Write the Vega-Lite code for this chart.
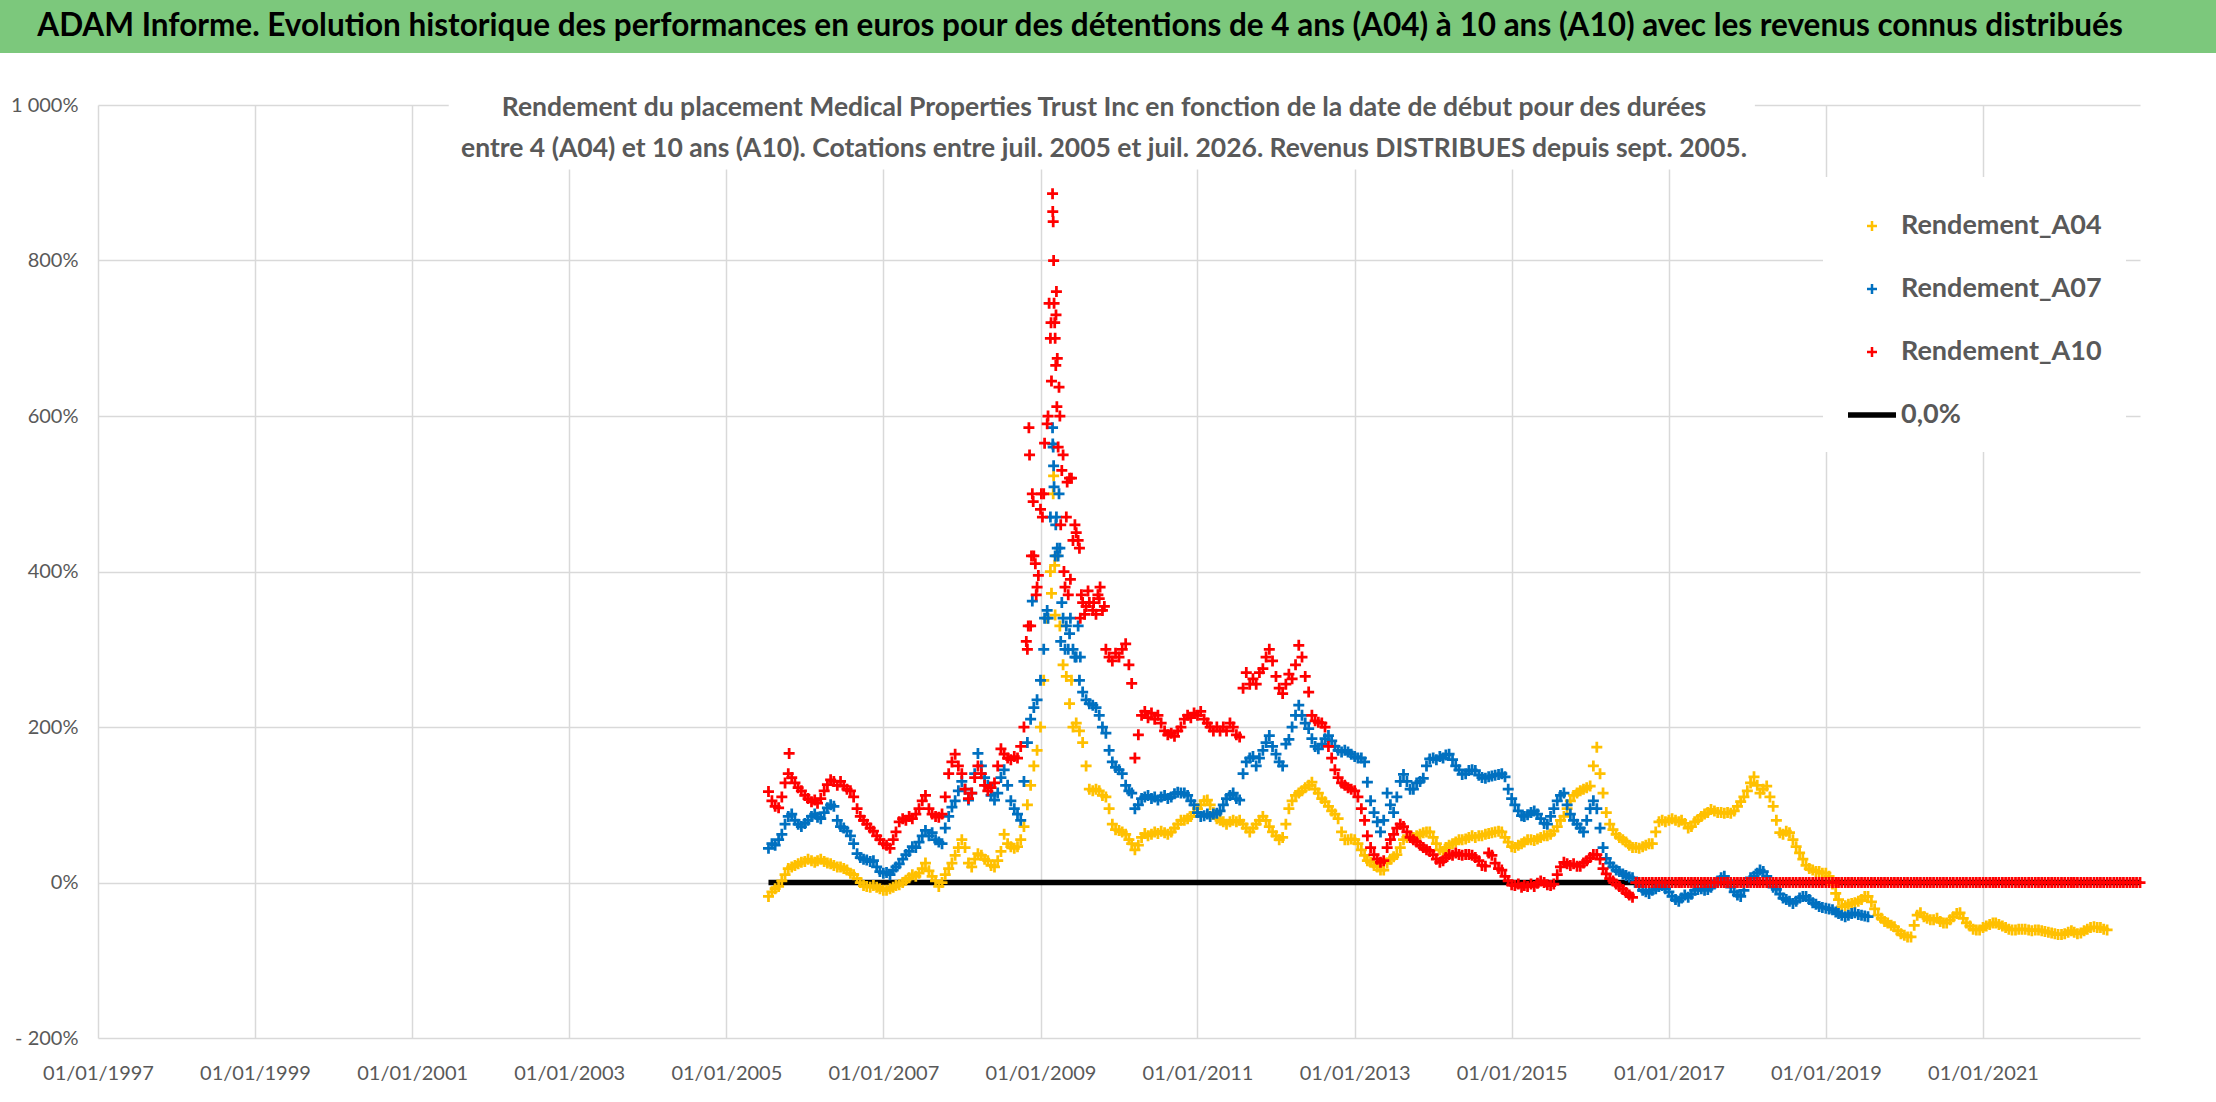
{
  "$schema": "https://vega.github.io/schema/vega-lite/v6.json",
  "padding": 0,
  "background": "white",
  "columns": 1,
  "bounds": "full",
  "spacing": 41,
  "config": {
    "view": {"stroke": null},
    "font": "Lato",
    "axis": {
      "domain": false,
      "ticks": false,
      "title": null,
      "gridColor": "#D9D9D9",
      "gridWidth": 1.5,
      "labelColor": "#595959",
      "labelFont": "Lato"
    }
  },
  "datasets": {
    "banner": [{"t": "ADAM Informe. Evolution historique des performances en euros pour des détentions de 4 ans (A04) à 10 ans (A10) avec les revenus connus distribués"}],
    "zero": [{"d": "2005-07-16"}, {"d": "2023-01-01"}],
    "perf": [
      {"d":"2005-07-16","a":-18,"b":44,"c":117},
      {"d":"2005-08-01","a":-12,"b":50,"c":105},
      {"d":"2005-08-16","a":-8,"b":48,"c":98},
      {"d":"2005-09-01","a":-5,"b":55,"c":96},
      {"d":"2005-09-16","a":2,"b":62,"c":110},
      {"d":"2005-10-01","a":10,"b":75,"c":128},
      {"d":"2005-10-16","a":18,"b":85,"c":140},
      {"d":"2005-10-20","c":166},
      {"d":"2005-11-01","a":20,"b":88,"c":135},
      {"d":"2005-11-16","a":22,"b":80,"c":128},
      {"d":"2005-12-01","a":24,"b":75,"c":122},
      {"d":"2005-12-16","a":26,"b":72,"c":118},
      {"d":"2006-01-01","a":27,"b":76,"c":112},
      {"d":"2006-01-16","a":30,"b":80,"c":108},
      {"d":"2006-02-01","a":28,"b":85,"c":104},
      {"d":"2006-02-16","a":26,"b":88,"c":106},
      {"d":"2006-03-01","a":28,"b":84,"c":102},
      {"d":"2006-03-16","a":30,"b":82,"c":108},
      {"d":"2006-04-01","a":27,"b":90,"c":118},
      {"d":"2006-04-16","a":25,"b":96,"c":126},
      {"d":"2006-05-01","a":24,"b":100,"c":132},
      {"d":"2006-05-16","a":22,"b":98,"c":130},
      {"d":"2006-06-01","a":20,"b":80,"c":125},
      {"d":"2006-06-16","a":20,"b":72,"c":130},
      {"d":"2006-07-01","a":18,"b":70,"c":124},
      {"d":"2006-07-16","a":16,"b":66,"c":120},
      {"d":"2006-08-01","a":12,"b":60,"c":118},
      {"d":"2006-08-16","a":10,"b":50,"c":110},
      {"d":"2006-09-01","a":5,"b":37,"c":95},
      {"d":"2006-09-16","a":0,"b":32,"c":85},
      {"d":"2006-10-01","a":-4,"b":30,"c":80},
      {"d":"2006-10-16","a":-5,"b":29,"c":75},
      {"d":"2006-11-01","a":-6,"b":27,"c":70},
      {"d":"2006-11-16","a":-4,"b":28,"c":66},
      {"d":"2006-12-01","a":-6,"b":20,"c":60},
      {"d":"2006-12-16","a":-8,"b":14,"c":55},
      {"d":"2007-01-01","a":-10,"b":12,"c":50},
      {"d":"2007-01-16","a":-10,"b":13,"c":48},
      {"d":"2007-02-01","a":-8,"b":10,"c":44},
      {"d":"2007-02-16","a":-6,"b":16,"c":55},
      {"d":"2007-03-01","a":-4,"b":20,"c":65},
      {"d":"2007-03-16","a":-3,"b":24,"c":78},
      {"d":"2007-04-01","a":0,"b":30,"c":82},
      {"d":"2007-04-16","a":3,"b":36,"c":80},
      {"d":"2007-05-01","a":6,"b":40,"c":85},
      {"d":"2007-05-16","a":10,"b":46,"c":82},
      {"d":"2007-06-01","a":8,"b":45,"c":88},
      {"d":"2007-06-16","a":12,"b":52,"c":95},
      {"d":"2007-07-01","a":18,"b":60,"c":105},
      {"d":"2007-07-16","a":25,"b":67,"c":112},
      {"d":"2007-08-01","a":15,"b":60,"c":95},
      {"d":"2007-08-16","a":8,"b":64,"c":88},
      {"d":"2007-09-01","a":2,"b":55,"c":85},
      {"d":"2007-09-16","a":-5,"b":52,"c":84},
      {"d":"2007-10-01","a":0,"b":50,"c":88},
      {"d":"2007-10-16","a":10,"b":70,"c":110},
      {"d":"2007-11-01","a":18,"b":85,"c":140},
      {"d":"2007-11-16","a":25,"b":97,"c":155},
      {"d":"2007-12-01","a":35,"b":105,"c":165},
      {"d":"2007-12-16","a":45,"b":118,"c":150},
      {"d":"2008-01-01","a":55,"b":130,"c":140},
      {"d":"2008-01-16","a":45,"b":120,"c":120},
      {"d":"2008-02-01","a":25,"b":106,"c":108},
      {"d":"2008-02-16","a":20,"b":115,"c":115},
      {"d":"2008-03-01","a":30,"b":140,"c":135},
      {"d":"2008-03-16","a":37,"b":166,"c":150},
      {"d":"2008-04-01","a":35,"b":150,"c":140},
      {"d":"2008-04-16","a":30,"b":135,"c":125},
      {"d":"2008-05-01","a":28,"b":125,"c":118},
      {"d":"2008-05-16","a":22,"b":112,"c":122},
      {"d":"2008-06-01","a":20,"b":106,"c":128},
      {"d":"2008-06-16","a":28,"b":115,"c":150},
      {"d":"2008-07-01","a":40,"b":135,"c":172},
      {"d":"2008-07-16","a":62,"b":145,"c":165},
      {"d":"2008-08-01","a":50,"b":125,"c":160},
      {"d":"2008-08-16","a":46,"b":105,"c":158},
      {"d":"2008-09-01","a":44,"b":95,"c":162},
      {"d":"2008-09-16","a":46,"b":88,"c":160},
      {"d":"2008-10-01","a":55,"b":80,"c":175},
      {"d":"2008-10-16","a":72,"b":130,"c":200},
      {"d":"2008-10-27","c":310},
      {"d":"2008-11-01","a":100,"b":180,"c":300},
      {"d":"2008-11-05","c":330},
      {"d":"2008-11-08","c":585},
      {"d":"2008-11-11","c":550},
      {"d":"2008-11-16","a":125,"b":210,"c":330},
      {"d":"2008-11-20","c":420},
      {"d":"2008-11-24","b":362,"c":500},
      {"d":"2008-11-28","c":490},
      {"d":"2008-12-01","a":150,"b":225,"c":420},
      {"d":"2008-12-08","c":410},
      {"d":"2008-12-12","c":370},
      {"d":"2008-12-16","a":170,"b":235,"c":380},
      {"d":"2008-12-22","c":395},
      {"d":"2009-01-01","a":200,"b":260,"c":480},
      {"d":"2009-01-05","c":500},
      {"d":"2009-01-10","c":470},
      {"d":"2009-01-16","a":260,"b":300,"c":500},
      {"d":"2009-01-20","b":340,"c":565},
      {"d":"2009-02-01","a":340,"b":350,"c":590},
      {"d":"2009-02-05","b":340,"c":600},
      {"d":"2009-02-10","c":745},
      {"d":"2009-02-16","a":400,"b":470,"c":700},
      {"d":"2009-02-19","c":720},
      {"d":"2009-02-21","a":372,"c":645},
      {"d":"2009-02-26","b":585,"c":886},
      {"d":"2009-02-27","b":564,"c":863},
      {"d":"2009-03-01","a":500,"b":560,"c":850},
      {"d":"2009-03-03","a":523,"b":536,"c":800},
      {"d":"2009-03-05","b":509,"c":745},
      {"d":"2009-03-08","a":408,"c":720},
      {"d":"2009-03-10","a":344,"b":420,"c":700},
      {"d":"2009-03-13","b":460,"c":665},
      {"d":"2009-03-14","c":730},
      {"d":"2009-03-16","a":420,"b":470,"c":760},
      {"d":"2009-03-18","c":612},
      {"d":"2009-03-20","b":430,"c":674},
      {"d":"2009-03-24","b":420,"c":560},
      {"d":"2009-03-28","b":500,"c":637},
      {"d":"2009-04-01","a":330,"b":430,"c":600},
      {"d":"2009-04-05","b":310,"c":460},
      {"d":"2009-04-10","b":360,"c":530},
      {"d":"2009-04-16","a":280,"b":340,"c":550},
      {"d":"2009-04-20","c":400},
      {"d":"2009-04-25","b":300,"c":380},
      {"d":"2009-05-01","a":265,"b":330,"c":470},
      {"d":"2009-05-05","c":515},
      {"d":"2009-05-10","b":300,"c":370},
      {"d":"2009-05-16","a":230,"b":320,"c":520},
      {"d":"2009-05-20","b":340,"c":390},
      {"d":"2009-05-25","a":260,"c":520},
      {"d":"2009-06-01","a":200,"b":300,"c":440},
      {"d":"2009-06-10","b":290,"c":460},
      {"d":"2009-06-16","a":205,"b":290,"c":450},
      {"d":"2009-06-25","b":330,"c":440},
      {"d":"2009-07-01","a":195,"b":260,"c":430},
      {"d":"2009-07-05","b":290,"c":340},
      {"d":"2009-07-10","c":370},
      {"d":"2009-07-16","a":180,"b":245,"c":360},
      {"d":"2009-07-25","c":345},
      {"d":"2009-08-01","a":150,"b":235,"c":355},
      {"d":"2009-08-10","c":375},
      {"d":"2009-08-16","a":120,"b":230,"c":360},
      {"d":"2009-09-01","a":118,"b":228,"c":350},
      {"d":"2009-09-05","c":360},
      {"d":"2009-09-16","a":120,"b":225,"c":345},
      {"d":"2009-09-25","c":370},
      {"d":"2009-10-01","a":118,"b":215,"c":365},
      {"d":"2009-10-05","c":380},
      {"d":"2009-10-16","a":112,"b":200,"c":350},
      {"d":"2009-10-25","c":355},
      {"d":"2009-11-01","a":110,"b":192,"c":300},
      {"d":"2009-11-16","a":95,"b":170,"c":290},
      {"d":"2009-12-01","a":75,"b":155,"c":285},
      {"d":"2009-12-16","a":68,"b":148,"c":295},
      {"d":"2010-01-01","a":67,"b":145,"c":290},
      {"d":"2010-01-16","a":65,"b":140,"c":300},
      {"d":"2010-02-01","a":62,"b":125,"c":307},
      {"d":"2010-02-16","a":55,"b":118,"c":280},
      {"d":"2010-03-01","a":50,"b":115,"c":256},
      {"d":"2010-03-16","a":42,"b":95,"c":160},
      {"d":"2010-04-01","a":48,"b":100,"c":190},
      {"d":"2010-04-16","a":58,"b":108,"c":215},
      {"d":"2010-05-01","a":63,"b":110,"c":220},
      {"d":"2010-05-16","a":60,"b":112,"c":212},
      {"d":"2010-06-01","a":62,"b":108,"c":218},
      {"d":"2010-06-16","a":65,"b":110,"c":210},
      {"d":"2010-07-01","a":63,"b":106,"c":215},
      {"d":"2010-07-16","a":66,"b":110,"c":205},
      {"d":"2010-08-01","a":64,"b":112,"c":195},
      {"d":"2010-08-16","a":62,"b":108,"c":190},
      {"d":"2010-09-01","a":65,"b":110,"c":192},
      {"d":"2010-09-16","a":70,"b":114,"c":188},
      {"d":"2010-10-01","a":75,"b":116,"c":195},
      {"d":"2010-10-16","a":80,"b":115,"c":200},
      {"d":"2010-11-01","a":80,"b":115,"c":210},
      {"d":"2010-11-16","a":82,"b":112,"c":215},
      {"d":"2010-12-01","a":85,"b":105,"c":212},
      {"d":"2010-12-16","a":90,"b":100,"c":218},
      {"d":"2011-01-01","a":95,"b":90,"c":215},
      {"d":"2011-01-16","a":100,"b":85,"c":220},
      {"d":"2011-02-01","a":105,"b":86,"c":210},
      {"d":"2011-02-16","a":106,"b":88,"c":205},
      {"d":"2011-03-01","a":100,"b":85,"c":200},
      {"d":"2011-03-16","a":90,"b":88,"c":195},
      {"d":"2011-04-01","a":82,"b":89,"c":200},
      {"d":"2011-04-16","a":80,"b":92,"c":195},
      {"d":"2011-05-01","a":78,"b":100,"c":200},
      {"d":"2011-05-16","a":75,"b":108,"c":195},
      {"d":"2011-06-01","a":78,"b":112,"c":205},
      {"d":"2011-06-16","a":80,"b":115,"c":200},
      {"d":"2011-07-01","a":78,"b":108,"c":190},
      {"d":"2011-07-16","a":80,"b":106,"c":187},
      {"d":"2011-08-01","a":75,"b":140,"c":250},
      {"d":"2011-08-16","a":70,"b":155,"c":270},
      {"d":"2011-09-01","a":65,"b":160,"c":255},
      {"d":"2011-09-16","a":70,"b":162,"c":262},
      {"d":"2011-10-01","a":75,"b":150,"c":255},
      {"d":"2011-10-16","a":80,"b":160,"c":270},
      {"d":"2011-11-01","a":85,"b":170,"c":275},
      {"d":"2011-11-16","a":80,"b":180,"c":290},
      {"d":"2011-12-01","a":72,"b":189,"c":300},
      {"d":"2011-12-16","a":65,"b":175,"c":285},
      {"d":"2012-01-01","a":60,"b":165,"c":265},
      {"d":"2012-01-16","a":55,"b":155,"c":250},
      {"d":"2012-02-01","a":58,"b":150,"c":243},
      {"d":"2012-02-16","a":75,"b":178,"c":255},
      {"d":"2012-03-01","a":95,"b":184,"c":268},
      {"d":"2012-03-16","a":105,"b":200,"c":262},
      {"d":"2012-04-01","a":112,"b":215,"c":280},
      {"d":"2012-04-16","a":115,"b":228,"c":305},
      {"d":"2012-05-01","a":118,"b":215,"c":290},
      {"d":"2012-05-16","a":122,"b":205,"c":265},
      {"d":"2012-06-01","a":125,"b":198,"c":245},
      {"d":"2012-06-16","a":129,"b":185,"c":215},
      {"d":"2012-07-01","a":120,"b":175,"c":208},
      {"d":"2012-07-16","a":115,"b":172,"c":206},
      {"d":"2012-08-01","a":108,"b":178,"c":205},
      {"d":"2012-08-16","a":104,"b":185,"c":200},
      {"d":"2012-09-01","a":98,"b":189,"c":175},
      {"d":"2012-09-16","a":92,"b":182,"c":160},
      {"d":"2012-10-01","a":88,"b":175,"c":145},
      {"d":"2012-10-16","a":82,"b":170,"c":135},
      {"d":"2012-11-01","a":65,"b":168,"c":128},
      {"d":"2012-11-16","a":55,"b":170,"c":125},
      {"d":"2012-12-01","a":55,"b":168,"c":122},
      {"d":"2012-12-16","a":56,"b":165,"c":120},
      {"d":"2013-01-01","a":55,"b":162,"c":118},
      {"d":"2013-01-16","a":50,"b":160,"c":110},
      {"d":"2013-02-01","a":42,"b":160,"c":95},
      {"d":"2013-02-16","a":35,"b":155,"c":80},
      {"d":"2013-03-01","a":28,"b":129,"c":60},
      {"d":"2013-03-16","a":26,"b":105,"c":45},
      {"d":"2013-04-01","a":22,"b":90,"c":36},
      {"d":"2013-04-16","a":20,"b":78,"c":30},
      {"d":"2013-05-01","a":16,"b":65,"c":26},
      {"d":"2013-05-16","a":16,"b":80,"c":28},
      {"d":"2013-06-01","a":25,"b":115,"c":45},
      {"d":"2013-06-16","a":30,"b":100,"c":55},
      {"d":"2013-07-01","a":33,"b":90,"c":62},
      {"d":"2013-07-16","a":36,"b":110,"c":70},
      {"d":"2013-08-01","a":45,"b":130,"c":75},
      {"d":"2013-08-16","a":55,"b":139,"c":72},
      {"d":"2013-09-01","a":58,"b":130,"c":65},
      {"d":"2013-09-16","a":60,"b":120,"c":58},
      {"d":"2013-10-01","a":58,"b":120,"c":55},
      {"d":"2013-10-16","a":60,"b":128,"c":52},
      {"d":"2013-11-01","a":62,"b":130,"c":48},
      {"d":"2013-11-16","a":64,"b":134,"c":45},
      {"d":"2013-12-01","a":65,"b":150,"c":42},
      {"d":"2013-12-16","a":65,"b":159,"c":40},
      {"d":"2014-01-01","a":58,"b":160,"c":36},
      {"d":"2014-01-16","a":50,"b":158,"c":30},
      {"d":"2014-02-01","a":42,"b":162,"c":26},
      {"d":"2014-02-16","a":40,"b":160,"c":28},
      {"d":"2014-03-01","a":45,"b":164,"c":32},
      {"d":"2014-03-16","a":48,"b":165,"c":36},
      {"d":"2014-04-01","a":50,"b":158,"c":35},
      {"d":"2014-04-16","a":52,"b":150,"c":38},
      {"d":"2014-05-01","a":55,"b":145,"c":36},
      {"d":"2014-05-16","a":55,"b":139,"c":35},
      {"d":"2014-06-01","a":56,"b":140,"c":36},
      {"d":"2014-06-16","a":58,"b":144,"c":36},
      {"d":"2014-07-01","a":60,"b":145,"c":35},
      {"d":"2014-07-16","a":58,"b":144,"c":32},
      {"d":"2014-08-01","a":60,"b":138,"c":28},
      {"d":"2014-08-16","a":60,"b":135,"c":22},
      {"d":"2014-09-01","a":62,"b":134,"c":21},
      {"d":"2014-09-16","a":63,"b":136,"c":38},
      {"d":"2014-10-01","a":64,"b":137,"c":35},
      {"d":"2014-10-16","a":65,"b":138,"c":25},
      {"d":"2014-11-01","a":66,"b":139,"c":18},
      {"d":"2014-11-16","a":65,"b":140,"c":16},
      {"d":"2014-12-01","a":58,"b":136,"c":8},
      {"d":"2014-12-16","a":52,"b":120,"c":2},
      {"d":"2015-01-01","a":46,"b":108,"c":-3},
      {"d":"2015-01-16","a":45,"b":100,"c":-4},
      {"d":"2015-02-01","a":48,"b":92,"c":-2},
      {"d":"2015-02-16","a":50,"b":86,"c":-6},
      {"d":"2015-03-01","a":52,"b":85,"c":-4},
      {"d":"2015-03-16","a":55,"b":87,"c":-5},
      {"d":"2015-04-01","a":55,"b":90,"c":-2},
      {"d":"2015-04-16","a":54,"b":92,"c":-5},
      {"d":"2015-05-01","a":56,"b":88,"c":-1},
      {"d":"2015-05-16","a":58,"b":82,"c":2},
      {"d":"2015-06-01","a":60,"b":76,"c":0},
      {"d":"2015-06-16","a":60,"b":75,"c":-3},
      {"d":"2015-07-01","a":62,"b":85,"c":-4},
      {"d":"2015-07-16","a":66,"b":95,"c":-2},
      {"d":"2015-08-01","a":72,"b":105,"c":10},
      {"d":"2015-08-16","a":80,"b":112,"c":20},
      {"d":"2015-09-01","a":85,"b":115,"c":26},
      {"d":"2015-09-16","a":95,"b":100,"c":24},
      {"d":"2015-10-01","a":105,"b":88,"c":22},
      {"d":"2015-10-16","a":112,"b":80,"c":24},
      {"d":"2015-11-01","a":115,"b":75,"c":21},
      {"d":"2015-11-16","a":118,"b":70,"c":21},
      {"d":"2015-12-01","a":120,"b":65,"c":25},
      {"d":"2015-12-16","a":122,"b":80,"c":28},
      {"d":"2016-01-01","a":124,"b":95,"c":32},
      {"d":"2016-01-16","a":150,"b":105,"c":36},
      {"d":"2016-02-01","a":174,"b":95,"c":36},
      {"d":"2016-02-16","a":140,"b":70,"c":30},
      {"d":"2016-03-01","a":115,"b":45,"c":18},
      {"d":"2016-03-16","a":90,"b":31,"c":11},
      {"d":"2016-04-01","a":75,"b":25,"c":5},
      {"d":"2016-04-16","a":68,"b":20,"c":2},
      {"d":"2016-05-01","a":62,"b":16,"c":-2},
      {"d":"2016-05-16","a":58,"b":14,"c":-5},
      {"d":"2016-06-01","a":55,"b":11,"c":-9},
      {"d":"2016-06-16","a":52,"b":9,"c":-13},
      {"d":"2016-07-01","a":48,"b":7,"c":-16},
      {"d":"2016-07-16","a":45,"b":6,"c":-19},
      {"d":"2016-08-01","a":45,"b":0,"c":0},
      {"d":"2016-08-16","a":44,"b":-5,"c":0},
      {"d":"2016-09-01","a":46,"b":-10,"c":0},
      {"d":"2016-09-16","a":48,"b":-12,"c":0},
      {"d":"2016-10-01","a":50,"b":-14,"c":0},
      {"d":"2016-10-16","a":50,"b":-10,"c":0},
      {"d":"2016-11-01","a":65,"b":-8,"c":0},
      {"d":"2016-11-16","a":78,"b":-5,"c":0},
      {"d":"2016-12-01","a":80,"b":-4,"c":0},
      {"d":"2016-12-16","a":78,"b":-8,"c":0},
      {"d":"2017-01-01","a":80,"b":-12,"c":0},
      {"d":"2017-01-16","a":82,"b":-18,"c":0},
      {"d":"2017-02-01","a":80,"b":-22,"c":0},
      {"d":"2017-02-16","a":78,"b":-24,"c":0},
      {"d":"2017-03-01","a":80,"b":-20,"c":0},
      {"d":"2017-03-16","a":76,"b":-16,"c":0},
      {"d":"2017-04-01","a":70,"b":-19,"c":0},
      {"d":"2017-04-16","a":72,"b":-15,"c":0},
      {"d":"2017-05-01","a":78,"b":-10,"c":0},
      {"d":"2017-05-16","a":81,"b":-9,"c":0},
      {"d":"2017-06-01","a":85,"b":-8,"c":0},
      {"d":"2017-06-16","a":88,"b":-10,"c":0},
      {"d":"2017-07-01","a":90,"b":-9,"c":0},
      {"d":"2017-07-16","a":94,"b":-6,"c":0},
      {"d":"2017-08-01","a":92,"b":-2,"c":0},
      {"d":"2017-08-16","a":90,"b":2,"c":0},
      {"d":"2017-09-01","a":90,"b":6,"c":0},
      {"d":"2017-09-16","a":89,"b":8,"c":0},
      {"d":"2017-10-01","a":90,"b":2,"c":0},
      {"d":"2017-10-16","a":89,"b":-6,"c":0},
      {"d":"2017-11-01","a":92,"b":-12,"c":0},
      {"d":"2017-11-16","a":98,"b":-16,"c":0},
      {"d":"2017-12-01","a":104,"b":-18,"c":0},
      {"d":"2017-12-16","a":110,"b":-10,"c":0},
      {"d":"2018-01-01","a":118,"b":0,"c":0},
      {"d":"2018-01-16","a":128,"b":6,"c":0},
      {"d":"2018-02-01","a":136,"b":8,"c":0},
      {"d":"2018-02-16","a":125,"b":12,"c":0},
      {"d":"2018-03-01","a":115,"b":16,"c":0},
      {"d":"2018-03-16","a":120,"b":14,"c":0},
      {"d":"2018-04-01","a":124,"b":8,"c":0},
      {"d":"2018-04-16","a":110,"b":0,"c":0},
      {"d":"2018-05-01","a":98,"b":-6,"c":0},
      {"d":"2018-05-16","a":80,"b":-9,"c":0},
      {"d":"2018-06-01","a":64,"b":-15,"c":0},
      {"d":"2018-06-16","a":62,"b":-20,"c":0},
      {"d":"2018-07-01","a":66,"b":-22,"c":0},
      {"d":"2018-07-16","a":64,"b":-24,"c":0},
      {"d":"2018-08-01","a":55,"b":-27,"c":0},
      {"d":"2018-08-16","a":46,"b":-24,"c":0},
      {"d":"2018-09-01","a":38,"b":-20,"c":0},
      {"d":"2018-09-16","a":30,"b":-18,"c":0},
      {"d":"2018-10-01","a":22,"b":-18,"c":0},
      {"d":"2018-10-16","a":18,"b":-22,"c":0},
      {"d":"2018-11-01","a":16,"b":-26,"c":0},
      {"d":"2018-11-16","a":14,"b":-28,"c":0},
      {"d":"2018-12-01","a":14,"b":-31,"c":0},
      {"d":"2018-12-16","a":12,"b":-32,"c":0},
      {"d":"2019-01-01","a":12,"b":-33,"c":0},
      {"d":"2019-01-16","a":8,"b":-34,"c":0},
      {"d":"2019-02-01","a":-2,"b":-35,"c":0},
      {"d":"2019-02-16","a":-14,"b":-38,"c":0},
      {"d":"2019-03-01","a":-22,"b":-40,"c":0},
      {"d":"2019-03-16","a":-31,"b":-42,"c":0},
      {"d":"2019-04-01","a":-30,"b":-44,"c":0},
      {"d":"2019-04-16","a":-28,"b":-42,"c":0},
      {"d":"2019-05-01","a":-27,"b":-40,"c":0},
      {"d":"2019-05-16","a":-26,"b":-39,"c":0},
      {"d":"2019-06-01","a":-24,"b":-41,"c":0},
      {"d":"2019-06-16","a":-22,"b":-42,"c":0},
      {"d":"2019-07-01","a":-18,"b":-43,"c":0},
      {"d":"2019-07-16","a":-18,"b":-44,"c":0},
      {"d":"2019-08-01","a":-25,"c":0},
      {"d":"2019-08-16","a":-34,"c":0},
      {"d":"2019-09-01","a":-42,"c":0},
      {"d":"2019-09-16","a":-46,"c":0},
      {"d":"2019-10-01","a":-50,"c":0},
      {"d":"2019-10-16","a":-52,"c":0},
      {"d":"2019-11-01","a":-55,"c":0},
      {"d":"2019-11-16","a":-57,"c":0},
      {"d":"2019-12-01","a":-62,"c":0},
      {"d":"2019-12-16","a":-66,"c":0},
      {"d":"2020-01-01","a":-68,"c":0},
      {"d":"2020-01-16","a":-70,"c":0},
      {"d":"2020-02-01","a":-70,"c":0},
      {"d":"2020-02-16","a":-55,"c":0},
      {"d":"2020-03-01","a":-42,"c":0},
      {"d":"2020-03-16","a":-39,"c":0},
      {"d":"2020-04-01","a":-44,"c":0},
      {"d":"2020-04-16","a":-46,"c":0},
      {"d":"2020-05-01","a":-48,"c":0},
      {"d":"2020-05-16","a":-48,"c":0},
      {"d":"2020-06-01","a":-46,"c":0},
      {"d":"2020-06-16","a":-50,"c":0},
      {"d":"2020-07-01","a":-52,"c":0},
      {"d":"2020-07-16","a":-52,"c":0},
      {"d":"2020-08-01","a":-48,"c":0},
      {"d":"2020-08-16","a":-44,"c":0},
      {"d":"2020-09-01","a":-40,"c":0},
      {"d":"2020-09-16","a":-39,"c":0},
      {"d":"2020-10-01","a":-46,"c":0},
      {"d":"2020-10-16","a":-52,"c":0},
      {"d":"2020-11-01","a":-56,"c":0},
      {"d":"2020-11-16","a":-60,"c":0},
      {"d":"2020-12-01","a":-61,"c":0},
      {"d":"2020-12-16","a":-61,"c":0},
      {"d":"2021-01-01","a":-58,"c":0},
      {"d":"2021-01-16","a":-56,"c":0},
      {"d":"2021-02-01","a":-54,"c":0},
      {"d":"2021-02-16","a":-52,"c":0},
      {"d":"2021-03-01","a":-52,"c":0},
      {"d":"2021-03-16","a":-54,"c":0},
      {"d":"2021-04-01","a":-56,"c":0},
      {"d":"2021-04-16","a":-58,"c":0},
      {"d":"2021-05-01","a":-60,"c":0},
      {"d":"2021-05-16","a":-61,"c":0},
      {"d":"2021-06-01","a":-61,"c":0},
      {"d":"2021-06-16","a":-60,"c":0},
      {"d":"2021-07-01","a":-60,"c":0},
      {"d":"2021-07-16","a":-60,"c":0},
      {"d":"2021-08-01","a":-61,"c":0},
      {"d":"2021-08-16","a":-62,"c":0},
      {"d":"2021-09-01","a":-61,"c":0},
      {"d":"2021-09-16","a":-61,"c":0},
      {"d":"2021-10-01","a":-62,"c":0},
      {"d":"2021-10-16","a":-63,"c":0},
      {"d":"2021-11-01","a":-64,"c":0},
      {"d":"2021-11-16","a":-65,"c":0},
      {"d":"2021-12-01","a":-66,"c":0},
      {"d":"2021-12-16","a":-67,"c":0},
      {"d":"2022-01-01","a":-67,"c":0},
      {"d":"2022-01-16","a":-66,"c":0},
      {"d":"2022-02-01","a":-64,"c":0},
      {"d":"2022-02-16","a":-62,"c":0},
      {"d":"2022-03-01","a":-64,"c":0},
      {"d":"2022-03-16","a":-66,"c":0},
      {"d":"2022-04-01","a":-65,"c":0},
      {"d":"2022-04-16","a":-62,"c":0},
      {"d":"2022-05-01","a":-60,"c":0},
      {"d":"2022-05-16","a":-58,"c":0},
      {"d":"2022-06-01","a":-57,"c":0},
      {"d":"2022-06-16","a":-58,"c":0},
      {"d":"2022-07-01","a":-58,"c":0},
      {"d":"2022-07-16","a":-60,"c":0},
      {"d":"2022-08-01","a":-61,"c":0},
      {"d":"2022-08-16","c":0},
      {"d":"2022-09-01","c":0},
      {"d":"2022-09-16","c":0},
      {"d":"2022-10-01","c":0},
      {"d":"2022-10-16","c":0},
      {"d":"2022-11-01","c":0},
      {"d":"2022-11-16","c":0},
      {"d":"2022-12-01","c":0},
      {"d":"2022-12-16","c":0},
      {"d":"2023-01-01","c":0}
    ]
  },
  "concat": [
    {
      "width": 2216,
      "height": 53,
      "view": {"fill": "#7CC87C", "stroke": null},
      "data": {"name": "banner"},
      "mark": {
        "type": "text",
        "font": "Lato",
        "fontWeight": "bold",
        "fontSize": 31.5,
        "color": "black",
        "dx": -28
      },
      "encoding": {"text": {"field": "t"}}
    },
    {
      "width": 2140,
      "height": 933,
      "title": {
        "text": [
          "Rendement du placement Medical Properties Trust Inc en fonction de la date de début pour des durées",
          "entre 4 (A04) et 10 ans (A10). Cotations entre juil. 2005 et juil. 2026. Revenus DISTRIBUES depuis sept. 2005."
        ],
        "font": "Lato",
        "fontSize": 26.5,
        "fontWeight": "bold",
        "color": "#595959",
        "lineHeight": 41,
        "anchor": "middle",
        "frame": "group",
        "baseline": "top",
        "offset": -67,
        "dx": 34
      },
      "layer": [
        {
          "data": {"values": [{}]},
          "mark": {"type": "rect", "color": "white"},
          "encoding": {
            "x": {"datum": {"year": 2001, "month": 6, "date": 20, "utc": true}, "type": "temporal"},
            "x2": {"datum": {"year": 2018, "month": 2, "date": 5, "utc": true}},
            "y": {"datum": 917, "type": "quantitative"},
            "y2": {"datum": 1005}
          }
        },
        {
          "data": {"name": "zero"},
          "mark": {"type": "line", "color": "black", "strokeWidth": 5.5},
          "encoding": {
            "x": {"field": "d", "type": "temporal", "title": null},
            "y": {"datum": 0, "type": "quantitative"}
          }
        },
        {
          "data": {"name": "perf"},
          "transform": [
            {"fold": ["a", "b", "c"], "as": ["k", "v"]},
            {"filter": "isValid(datum.v)"}
          ],
          "mark": {"type": "point", "filled": true, "size": 3025, "opacity": 1, "strokeWidth": 0},
          "encoding": {
            "x": {
              "field": "d",
              "type": "temporal",
              "title": null,
              "scale": {
                "type": "utc",
                "nice": false,
                "range": [98, 2140],
                "domain": [
                  {"year": 1997, "month": 1, "date": 1, "utc": true},
                  {"year": 2023, "month": 1, "date": 1, "utc": true}
                ]
              },
              "axis": {
                "values": [
                  {"year": 1997, "month": 1, "date": 1, "utc": true},
                  {"year": 1999, "month": 1, "date": 1, "utc": true},
                  {"year": 2001, "month": 1, "date": 1, "utc": true},
                  {"year": 2003, "month": 1, "date": 1, "utc": true},
                  {"year": 2005, "month": 1, "date": 1, "utc": true},
                  {"year": 2007, "month": 1, "date": 1, "utc": true},
                  {"year": 2009, "month": 1, "date": 1, "utc": true},
                  {"year": 2011, "month": 1, "date": 1, "utc": true},
                  {"year": 2013, "month": 1, "date": 1, "utc": true},
                  {"year": 2015, "month": 1, "date": 1, "utc": true},
                  {"year": 2017, "month": 1, "date": 1, "utc": true},
                  {"year": 2019, "month": 1, "date": 1, "utc": true},
                  {"year": 2021, "month": 1, "date": 1, "utc": true}
                ],
                "format": "%d/%m/%Y",
                "labelFontSize": 20,
                "labelPadding": 25,
                "labelAngle": 0,
                "labelFlush": false,
                "labelOverlap": false,
                "grid": true
              }
            },
            "y": {
              "field": "v",
              "type": "quantitative",
              "title": null,
              "scale": {"domain": [-200, 1000], "nice": false, "zero": false},
              "axis": {
                "values": [-200, 0, 200, 400, 600, 800, 1000],
                "labelExpr": "datum.value == 1000 ? '1 000%' : datum.value < 0 ? '- ' + (-datum.value) + '%' : datum.value + '%'",
                "labelFontSize": 20,
                "labelPadding": 20,
                "offset": -98,
                "grid": true
              }
            },
            "color": {
              "field": "k",
              "type": "nominal",
              "scale": {
                "domain": ["a", "b", "c", "z"],
                "range": ["#FFC000", "#0070C0", "#FF0000", "#000000"]
              },
              "legend": {
                "title": null,
                "orient": "none",
                "legendX": 1823,
                "legendY": 177,
                "fillColor": "white",
                "padding": 24,
                "symbolSize": 2500,
                "symbolStrokeWidth": 0,
                "rowPadding": 25,
                "labelOffset": 4,
                "labelLimit": 400,
                "labelFontSize": 27,
                "labelFontWeight": "bold",
                "labelColor": "#595959",
                "labelFont": "Lato",
                "labelExpr": "datum.label == 'a' ? 'Rendement_A04' : datum.label == 'b' ? 'Rendement_A07' : datum.label == 'c' ? 'Rendement_A10' : '0,0%'"
              }
            },
            "shape": {
              "field": "k",
              "type": "nominal",
              "scale": {
                "domain": ["a", "b", "c", "z"],
                "range": [
                  "M-0.2,-0.05H0.2V0.05H-0.2Z M-0.05,-0.2H0.05V0.2H-0.05Z",
                  "M-0.2,-0.05H0.2V0.05H-0.2Z M-0.05,-0.2H0.05V0.2H-0.05Z",
                  "M-0.2,-0.05H0.2V0.05H-0.2Z M-0.05,-0.2H0.05V0.2H-0.05Z",
                  "M-0.96,-0.11H0.96V0.11H-0.96Z"
                ]
              },
              "legend": {
                "title": null,
                "orient": "none",
                "legendX": 1823,
                "legendY": 177,
                "fillColor": "white",
                "padding": 24,
                "symbolSize": 2500,
                "symbolStrokeWidth": 0,
                "rowPadding": 25,
                "labelOffset": 4,
                "labelLimit": 400,
                "labelFontSize": 27,
                "labelFontWeight": "bold",
                "labelColor": "#595959",
                "labelFont": "Lato",
                "labelExpr": "datum.label == 'a' ? 'Rendement_A04' : datum.label == 'b' ? 'Rendement_A07' : datum.label == 'c' ? 'Rendement_A10' : '0,0%'"
              }
            },
            "order": {"field": "k", "type": "nominal", "sort": "ascending"}
          }
        }
      ]
    }
  ]
}
